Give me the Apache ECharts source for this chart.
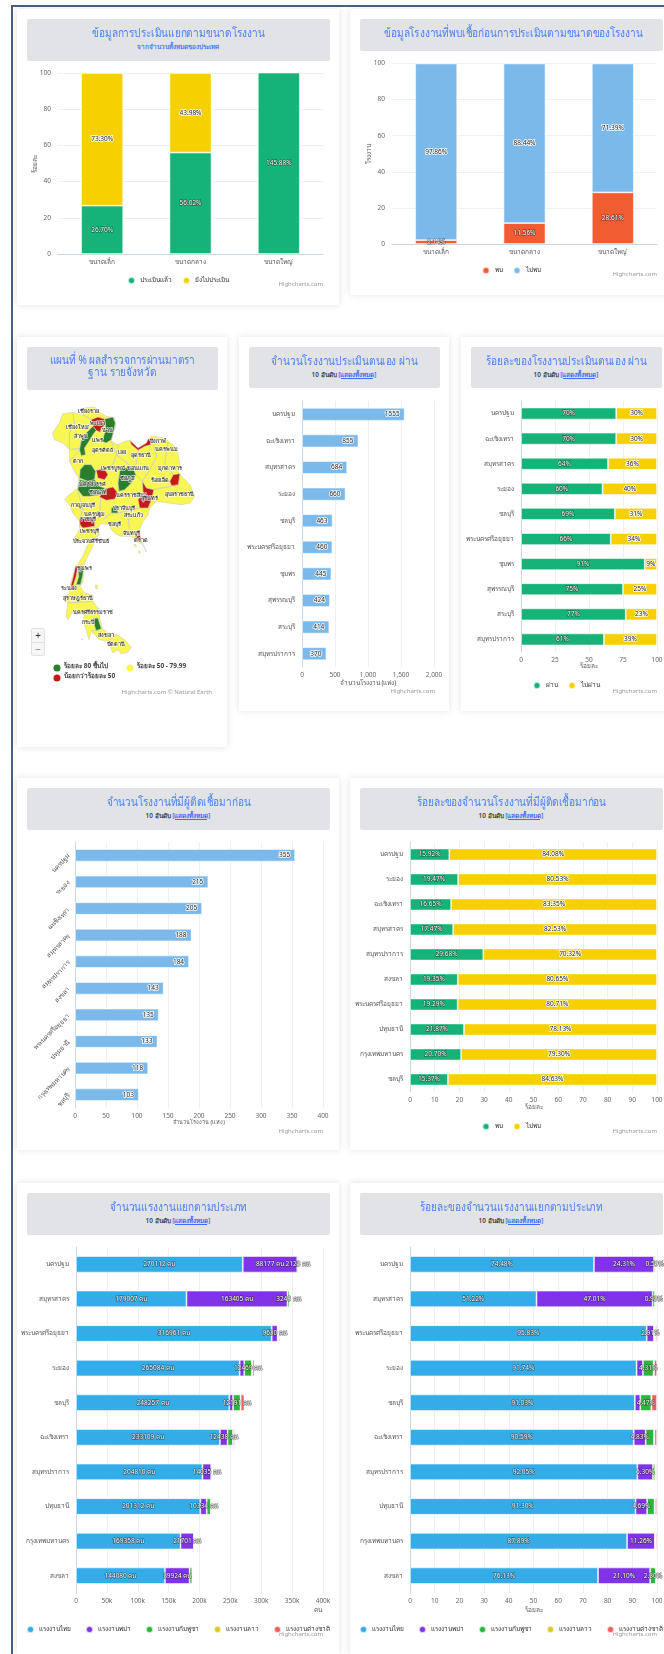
<!DOCTYPE html>
<html><head><meta charset="utf-8">
<script src="https://cdn.jsdelivr.net/npm/echarts@6/dist/echarts.min.js"></script>
<style>
html,body{margin:0;padding:0;width:664px;height:1654px;overflow:hidden;background:#fff;font-family:"Noto Sans",Roboto,sans-serif}
#frameTop{position:absolute;left:11px;top:5px;width:653px;height:2px;background:#4a5f7c}
#frameLeft{position:absolute;left:11px;top:5px;width:2px;height:1649px;background:#4a5f7c}
.card{position:absolute;background:#fff;box-shadow:0 0 7px rgba(0,0,0,.12)}
.chart{position:absolute;left:0;top:0;width:100%;height:100%}
.head{position:absolute;left:9.5px;top:9.5px;background:#e1e3e6;border-radius:2px;text-align:center;box-sizing:border-box;z-index:2}
.head h3{margin:0;font-weight:400;color:#4d80f5;font-size:12px;line-height:12px;padding-top:8px;white-space:nowrap;transform:scaleX(.84)}
.head h3.two{padding-top:7px}
.head p{margin:3px 0 0;color:#444;font-size:6.4px;line-height:10px;font-weight:600}
.head p.blue{color:#4d80f5}
.head a{color:#3f6ff0;text-decoration:underline}
.zoom{position:absolute;left:14px;top:291px;width:14px;height:28px;background:#f6f6f6;border:1px solid #e2e2e2;border-radius:2px;box-sizing:border-box;z-index:3;text-align:center;color:#333;font-size:10px;line-height:13px}
.zoom div+div{border-top:1px solid #e2e2e2;color:#777}
</style></head><body>
<div id="frameTop"></div><div id="frameLeft"></div>
<div id="page"></div>
<script>
// ---------- values ----------
const sizeCats = ['ขนาดเล็ก','ขนาดกลาง','ขนาดใหญ่'];
const assessedDone = [26.70,56.02,145.88];
const assessedNot = [73.30,43.98,0];
const foundYes = [2.14,11.56,28.61];
const foundNo = [97.86,88.44,71.39];

const selfCats = ['นครปฐม','ฉะเชิงเทรา','สมุทรสาคร','ระยอง','ชลบุรี','พระนครศรีอยุธยา','ชุมพร','สุพรรณบุรี','สระบุรี','สมุทรปราการ'];
const selfCount = [1555,855,684,660,463,460,445,424,414,370];
const selfPass = [70,70,64,60,69,66,91,75,77,61];
const selfFail = [30,30,36,40,31,34,9,25,23,39];

const infCats = ['นครปฐม','ระยอง','ฉะเชิงเทรา','สมุทรสาคร','สมุทรปราการ','สงขลา','พระนครศรีอยุธยา','ปทุมธานี','กรุงเทพมหานคร','ชลบุรี'];
const infCount = [355,215,205,188,184,143,135,133,118,103];
const infYes = [15.92,19.47,16.65,17.47,29.68,19.35,19.29,21.87,20.70,15.37];
const infNo = [84.08,80.53,83.35,82.53,70.32,80.65,80.71,78.13,79.30,84.63];

const workCats = ['นครปฐม','สมุทรสาคร','พระนครศรีอยุธยา','ระยอง','ชลบุรี','ฉะเชิงเทรา','สมุทรปราการ','ปทุมธานี','กรุงเทพมหานคร','สงขลา'];
const workThai = [270112,179007,316961,265084,248257,233109,204810,201312,169358,144080];
const workBurma = [88177,163405,9630,7370,6000,12438,14035,10334,21701,39924];
const workCambodia = [2123,3248,1160,12469,12191,8700,2000,6700,190,4360];
const workLao = [1270,1500,990,720,270,520,600,400,385,115];
const workOther = [980,1430,2020,3320,6000,2570,1070,1750,1060,775];
const pctThai = [74.48,51.22,95.83,91.74,91.03,90.59,92.05,91.30,87.89,76.13];
const pctBurma = [24.31,47.01,2.91,2.55,2.20,4.83,6.30,4.69,11.26,21.10];
const pctCambodia = [0.59,0.93,0.35,4.31,4.47,3.38,0.90,3.04,0.10,2.30];
const pctLao = [0.35,0.43,0.30,0.25,0.10,0.20,0.27,0.18,0.20,0.06];
const pctOther = [0.27,0.41,0.61,1.15,2.20,1.00,0.48,0.79,0.55,0.41];
const burmaLabelled = [1,1,1,0,0,1,1,1,1,1];
const cambodiaLabelled = [1,1,0,1,1,0,0,0,0,0];
const cambodiaPctLabelled = [1,1,0,1,1,0,0,0,0,1];

// province results (pass rate %), shapes below are rough traces of the base map
const mapProvinces = ['พะเยา','น่าน','ลำปาง','กำแพงเพชร','นครสวรรค์','พิจิตร','สิงห์บุรี','ชัยภูมิ','บุรีรัมย์','ยโสธร','หนองคาย','ปราจีนบุรี','ราชบุรี','ชุมพร','ระนอง','ตรัง','ตราด'];
const mapPassRate = [42,85,84,86,88,45,44,87,41,43,40,83,38,82,46,81,47];

const thailandOutline = [[40,42],[70,38],[100,45],[105,25],[135,22],[150,38],[170,50],[195,55],[198,80],[190,100],[185,125],[205,135],[225,125],[240,122],[265,145],[290,130],[305,108],[340,115],[355,125],[375,140],[385,165],[390,195],[385,220],[400,235],[420,255],[435,290],[420,310],[395,315],[355,310],[320,305],[300,325],[295,345],[280,365],[270,390],[270,415],[278,430],[290,457],[280,435],[262,425],[245,410],[215,410],[198,403],[185,390],[178,375],[155,372],[145,385],[150,405],[135,415],[130,440],[120,460],[105,490],[105,505],[100,545],[92,560],[105,580],[130,585],[130,605],[145,625],[150,655],[158,685],[175,700],[200,705],[225,720],[245,743],[235,757],[215,763],[205,750],[190,760],[175,725],[150,720],[125,695],[118,720],[110,690],[100,665],[105,645],[70,637],[55,660],[50,650],[55,610],[45,600],[60,580],[60,565],[68,535],[80,500],[100,470],[110,445],[118,430],[105,420],[70,420],[85,400],[90,385],[90,365],[70,340],[60,315],[45,300],[60,285],[85,265],[88,235],[75,215],[60,185],[60,150],[40,130],[15,120],[10,100],[30,70]];
const provinceShapes = [
 [[125,60],[145,52],[165,58],[168,75],[155,85],[152,98],[140,92],[130,80]],
 [[165,58],[190,52],[197,70],[192,95],[185,120],[170,130],[158,125],[165,100],[168,75]],
 [[130,80],[140,92],[130,105],[115,130],[105,145],[108,165],[95,168],[90,150],[95,125],[105,105],[120,90]],
 [[105,195],[125,195],[138,215],[135,240],[115,245],[90,235],[92,210]],
 [[90,240],[115,245],[135,240],[150,260],[165,265],[155,285],[120,290],[100,290],[85,270]],
 [[140,212],[165,208],[175,225],[165,240],[145,235]],
 [[165,268],[190,262],[205,280],[195,298],[170,302],[150,292]],
 [[212,205],[250,205],[258,225],[245,250],[225,270],[208,275],[205,250]],
 [[278,245],[290,265],[312,270],[305,300],[295,325],[270,325],[265,300],[280,280]],
 [[370,225],[390,222],[385,255],[365,258],[360,245]],
 [[240,122],[265,145],[290,130],[295,118],[305,118],[303,135],[285,140],[265,152],[245,135]],
 [[185,325],[200,318],[205,340],[185,340]],
 [[90,358],[135,350],[135,380],[100,385],[92,375]],
 [[85,500],[102,503],[100,525],[93,555],[80,555],[88,530]],
 [[78,500],[85,500],[80,530],[72,555],[78,565],[65,570],[65,555],[72,530]],
 [[128,657],[145,655],[155,687],[140,693]],
 [[255,410],[270,405],[275,420],[262,425]]
];
const islandShapes = [[[138,555],[145,558],[143,568],[137,565]],[[255,433],[261,437],[258,443],[254,439]],[[267,452],[272,456],[270,462],[266,458]],[[96,718],[100,718],[99,722]]];
const provinceBorders = [[[100,45],[125,60]],[[70,38],[75,75],[60,100],[60,150]],[[105,145],[60,150]],[[90,150],[60,185]],[[185,125],[200,165],[190,195],[140,212]],[[265,152],[260,190],[250,205]],[[205,135],[200,165],[250,205]],[[305,118],[320,170],[300,210],[278,245]],[[355,125],[345,190],[370,225]],[[258,225],[278,245]],[[390,222],[385,255],[312,270]],[[88,235],[120,290]],[[85,270],[100,330],[90,358]],[[155,285],[150,340],[135,350]],[[205,340],[185,340],[160,360]],[[205,340],[270,325]],[[235,355],[240,390]],[[95,490],[105,505]],[[60,565],[100,545]],[[55,610],[130,605]],[[105,645],[150,625]],[[125,695],[158,685]],[[175,725],[200,705]]];
const provinceLabels = [['เชียงราย',118,35],['พะเยา',145,72],['น่าน',175,93],['เชียงใหม่',85,83],['ลำพูน',95,110],['แพร่',145,123],['อุตรดิตถ์',160,153],['เลย',218,158],['อุดรธานี',275,167],['บึงกาฬ',325,125],['นครพนม',350,150],['ตาก',85,185],['เพชรบูรณ์',190,207],['ขอนแก่น',265,205],['มุกดาหาร',360,205],['ชัยภูมิ',232,235],['ร้อยเอ็ด',330,243],['นครสวรรค์',130,255],['ชัยนาท',145,278],['นครราชสีมา',245,288],['สุรินทร์',300,297],['อุบลราชธานี',390,285],['กาญจนบุรี',100,317],['ปราจีนบุรี',222,327],['นครปฐม',135,345],['สระแก้ว',252,347],['ราชบุรี',115,360],['ชลบุรี',195,375],['เพชรบุรี',120,395],['จันทบุรี',245,400],['ตราด',275,421],['ประจวบคีรีขันธ์',125,425],['ชุมพร',105,505],['ระนอง',60,567],['สุราษฎร์ธานี',85,597],['นครศรีธรรมราช',130,638],['กระบี่',115,668],['สงขลา',168,707],['ปัตตานี',200,735]];

// ---------- look ----------
const GREEN='#16b378', YELLOW='#f6d000', ORANGE='#f15c33', SKY='#7cb9eb', BLUE='#33ace8', PURPLE='#8033e8', GREEN2='#2cb53c', LAO='#e0c81f', OTHER='#f06060';
const FONT='"Noto Sans",Roboto,sans-serif';
const LIGHTLBL={color:'#fff',textBorderColor:'rgba(30,30,30,.7)',textBorderWidth:1};
const DARKLBL={color:'#222',textBorderColor:'#fff',textBorderWidth:1.5};
const sub10='10 อันดับ <a>[แสดงทั้งหมด]</a>';

function addCard(c){
  const d=document.createElement('div');d.className='card';
  d.style.cssText=`left:${c.x}px;top:${c.y}px;width:${c.w}px;height:${c.h}px`;
  const cv=document.createElement('div');cv.className='chart';d.appendChild(cv);
  const h=document.createElement('div');h.className='head';
  h.style.width=(c.w-19)+'px';h.style.height=c.hh+'px';
  h.innerHTML=`<h3 class="${c.two?'two':''}">${c.title}</h3>`+(c.sub?`<p class="${c.subBlue?'blue':''}">${c.sub}</p>`:'');
  d.appendChild(h);
  document.getElementById('page').appendChild(d);
  return {el:cv,card:d};
}
function credit(txt,right,top){return {type:'text',right:right,top:top,style:{text:txt,fontSize:6,fill:'#999',fontFamily:FONT}};}

function barChart(c){
  const {el}=addCard(c);
  const chart=echarts.init(el,null,{renderer:'canvas'});
  const g={left:c.plot[0]-c.x,right:c.w-(c.plot[1]-c.x),top:c.plot[2]-c.y,bottom:c.h-(c.plot[3]-c.y),containLabel:false,outerBoundsMode:'none'};
  const cat={type:'category',data:c.cats,inverse:c.horizontal,
    axisTick:{show:false},axisLine:{lineStyle:{color:'#ccd6eb',width:1}},
    axisLabel:{fontSize:6.5,color:'#555',fontFamily:FONT,interval:0,rotate:c.catRotate||0,margin:c.catMargin||(c.horizontal?7:5)}};
  const val={type:'value',min:0,max:c.max,interval:c.interval,
    splitLine:{show:true,lineStyle:{color:'#f0f0f3',width:1}},axisLine:{show:false},axisTick:{show:false},
    axisLabel:{fontSize:6.5,color:'#666',fontFamily:FONT,margin:c.horizontal?5:7,formatter:c.valFmt||'{value}'}};
  if(c.valName){Object.assign(val,{name:c.valName,nameLocation:c.nameEnd?'end':'middle',nameGap:c.nameGap,nameMoveOverlap:!!c.nameEnd,
    nameTextStyle:Object.assign({fontSize:c.nameSize||6.5,color:'#555',fontFamily:FONT},c.nameEnd?{align:'right',verticalAlign:'top',padding:[14,0,0,0]}:{})});}
  const series=c.series.map(s=>({
    name:s.name,type:'bar',stack:c.noStack?null:'t',data:s.data,barWidth:c.barWidth,
    itemStyle:{color:s.color,borderColor:'rgba(255,255,255,.7)',borderWidth:.8},
    label:Object.assign({show:true,position:s.pos||'inside',fontSize:s.size||6.5,fontFamily:FONT,offset:s.offset||[0,0],
      formatter:s.fmt},s.dark?DARKLBL:LIGHTLBL),
    labelLayout:{hideOverlap:false},silent:true,animation:false
  }));
  const opt={animation:false,textStyle:{fontFamily:FONT},grid:g,
    xAxis:c.horizontal?val:cat,yAxis:c.horizontal?cat:val,series:series,
    graphic:[credit('Highcharts.com',c.w-(c.creditRight-c.x),c.creditY-c.y)]};
  if(c.legendY){opt.legend={top:c.legendY-c.y-5,left:'center',icon:'circle',itemWidth:7,itemHeight:7,itemGap:c.legendGap||10,
    textStyle:{fontSize:c.legendSize||6.5,color:'#333',fontFamily:FONT},data:c.series.map(s=>s.name)};}
  chart.setOption(opt);
}
const pct2=p=>p.value>0?p.value.toFixed(2)+'%':'';
const pct0=p=>p.value+'%';
const plain=p=>String(p.value);

// Row 1
barChart({x:17,y:9,w:322,h:296,hh:42,title:'ข้อมูลการประเมินแยกตามขนาดโรงงาน',sub:'จากจำนวนทั้งหมดของประเทศ',subBlue:true,
  plot:[58,323,73,254],cats:sizeCats,max:100,interval:20,barWidth:42,valName:'ร้อยละ',nameGap:19,legendY:276,creditRight:323,creditY:281,
  series:[{name:'ประเมินแล้ว',data:assessedDone,color:GREEN,fmt:pct2},{name:'ยังไม่ประเมิน',data:assessedNot,color:YELLOW,dark:true,fmt:pct2}]});
barChart({x:350,y:9,w:322,h:286,hh:32,title:'ข้อมูลโรงงานที่พบเชื้อก่อนการประเมินตามขนาดของโรงงาน',
  plot:[392,657,63.5,244],cats:sizeCats,max:100,interval:20,barWidth:42,valName:'โรงงาน',nameGap:19,legendY:266,creditRight:657,creditY:271,
  series:[{name:'พบ',data:foundYes,color:ORANGE,fmt:pct2},{name:'ไม่พบ',data:foundNo,color:SKY,dark:true,fmt:pct2}]});

// Row 2
(function(){
  const c={x:17,y:337,w:210,h:410,hh:43,two:true,title:'แผนที่ % ผลสำรวจการผ่านมาตรา<br>ฐาน รายจังหวัด'};
  const {el,card}=addCard(c);
  const z=document.createElement('div');z.className='zoom';z.innerHTML='<div>+</div><div>−</div>';card.appendChild(z);
  const ring=r=>r.map(p=>[p[0],-p[1]]);
  const lineRing=r=>{const a=r.map(p=>[p[0],-p[1]]);return a.concat(a.slice(0,-1).reverse());};
  const feats=[];
  const add=(name,coords)=>feats.push({type:'Feature',properties:{name},geometry:{type:'Polygon',coordinates:[coords]}});
  add('ประเทศไทย',ring(thailandOutline));
  islandShapes.forEach((s,i)=>add('เกาะ'+i,ring(s)));
  provinceBorders.forEach((s,i)=>add('เขต'+i,lineRing(s)));
  provinceShapes.forEach((s,i)=>add(mapProvinces[i],ring(s)));
  echarts.registerMap('thai',{type:'FeatureCollection',features:feats});
  const chart=echarts.init(el);
  chart.setOption({animation:false,textStyle:{fontFamily:FONT},
    geo:{map:'thai',aspectScale:1,left:52.7-c.x,top:407-c.y,width:142.3,height:247,roam:false,silent:true,
      itemStyle:{areaColor:'#f8f650',borderColor:'#cfcfc4',borderWidth:.6},emphasis:{disabled:true},select:{disabled:true},label:{show:false}},
    visualMap:{show:false,type:'piecewise',seriesIndex:0,pieces:[{min:80,color:'#2a7f2e'},{min:50,max:79.99,color:'#f8f650'},{max:49.99,color:'#c41a1c'}]},
    series:[
      {type:'map',geoIndex:0,data:mapProvinces.map((n,i)=>({name:n,value:mapPassRate[i]}))},
      {type:'scatter',coordinateSystem:'geo',symbolSize:0,silent:true,
        data:provinceLabels.map(l=>({name:l[0],value:[l[1],-l[2]]})),
        label:{show:true,position:'inside',formatter:'{b}',fontSize:5.5,fontWeight:'bold',color:'#222',textBorderColor:'#fff',textBorderWidth:1.2},
        labelLayout:{hideOverlap:false}}
    ],
    graphic:[
      {type:'circle',shape:{cx:40,cy:331,r:3.5},style:{fill:'#2a7f2e'}},
      {type:'text',left:47,top:326,style:{text:'ร้อยละ 80 ขึ้นไป',fontSize:6.5,fontWeight:'bold',fill:'#444',fontFamily:FONT}},
      {type:'circle',shape:{cx:113,cy:331,r:3.5},style:{fill:'#f8f650'}},
      {type:'text',left:120,top:326,style:{text:'ร้อยละ 50 - 79.99',fontSize:6.5,fontWeight:'bold',fill:'#444',fontFamily:FONT}},
      {type:'circle',shape:{cx:40,cy:341,r:3.5},style:{fill:'#c41a1c'}},
      {type:'text',left:47,top:336,style:{text:'น้อยกว่าร้อยละ 50',fontSize:6.5,fontWeight:'bold',fill:'#444',fontFamily:FONT}},
      credit('Highcharts.com © Natural Earth',15,352)
    ]});
})();
barChart({x:239,y:337,w:210,h:374,hh:41,title:'จำนวนโรงงานประเมินตนเอง ผ่าน',sub:sub10,horizontal:true,noStack:true,
  plot:[302,434,401,667],cats:selfCats,max:2000,interval:500,barWidth:13,valName:'จำนวนโรงงาน (แห่ง)',nameGap:13,creditRight:435,creditY:688,
  series:[{name:'ผ่าน',data:selfCount,color:SKY,dark:true,pos:'insideRight',fmt:plain}]});
barChart({x:461,y:337,w:210,h:374,hh:41,title:'ร้อยละของโรงงานประเมินตนเอง ผ่าน',sub:sub10,horizontal:true,
  plot:[521,657,401,652],cats:selfCats,max:100,interval:25,barWidth:12,valName:'ร้อยละ',nameGap:11,legendY:681,creditRight:657,creditY:688,
  series:[{name:'ผ่าน',data:selfPass,color:GREEN,fmt:pct0},{name:'ไม่ผ่าน',data:selfFail,color:YELLOW,dark:true,fmt:pct0}]});

// Row 3
barChart({x:17,y:778,w:322,h:372,hh:42,title:'จำนวนโรงงานที่มีผู้ติดเชื้อมาก่อน',sub:sub10,horizontal:true,noStack:true,
  plot:[75,323,842,1108],cats:infCats,max:400,interval:50,barWidth:12.5,catRotate:45,catMargin:6,valName:'จำนวนโรงงาน (แห่ง)',nameGap:11,nameSize:5.5,creditRight:323,creditY:1128,
  series:[{name:'พบ',data:infCount,color:SKY,dark:true,pos:'insideRight',offset:[0,6],fmt:plain}]});
barChart({x:350,y:778,w:322,h:372,hh:42,title:'ร้อยละของจำนวนโรงงานที่มีผู้ติดเชื้อมาก่อน',sub:sub10,horizontal:true,
  plot:[410,657,842,1092],cats:infCats,max:100,interval:10,barWidth:12,valName:'ร้อยละ',nameGap:12,legendY:1122,creditRight:657,creditY:1128,
  series:[{name:'พบ',data:infYes,color:GREEN,fmt:pct2},{name:'ไม่พบ',data:infNo,color:YELLOW,dark:true,fmt:pct2}]});

// Row 4
const cnt=p=>p.value+' คน';
const only=(flags,f)=>p=>flags[p.dataIndex]?f(p):'';
barChart({x:17,y:1183,w:322,h:471,hh:42,title:'จำนวนแรงงานแยกตามประเภท',sub:sub10,horizontal:true,
  plot:[76,323,1247,1593],cats:workCats,max:400000,interval:50000,barWidth:16.5,valFmt:v=>v?(v/1000)+'k':'0',valName:'คน',nameEnd:true,nameGap:-1,
  legendY:1625,legendGap:14,creditRight:323,creditY:1631,
  series:[{name:'แรงงานไทย',data:workThai,color:BLUE,fmt:cnt},
    {name:'แรงงานพม่า',data:workBurma,color:PURPLE,fmt:only(burmaLabelled,cnt)},
    {name:'แรงงานกัมพูชา',data:workCambodia,color:GREEN2,fmt:only(cambodiaLabelled,cnt)},
    {name:'แรงงานลาว',data:workLao,color:LAO,fmt:()=>''},
    {name:'แรงงานต่างชาติ',data:workOther,color:OTHER,fmt:()=>''}]});
barChart({x:350,y:1183,w:322,h:471,hh:42,title:'ร้อยละของจำนวนแรงงานแยกตามประเภท',sub:sub10,horizontal:true,
  plot:[410,657,1247,1593],cats:workCats,max:100,interval:10,barWidth:16.5,valName:'ร้อยละ',nameGap:14,
  legendY:1625,legendGap:14,creditRight:657,creditY:1631,
  series:[{name:'แรงงานไทย',data:pctThai,color:BLUE,fmt:pct2},
    {name:'แรงงานพม่า',data:pctBurma,color:PURPLE,fmt:only(burmaLabelled,pct2)},
    {name:'แรงงานกัมพูชา',data:pctCambodia,color:GREEN2,fmt:only(cambodiaPctLabelled,pct2)},
    {name:'แรงงานลาว',data:pctLao,color:LAO,fmt:()=>''},
    {name:'แรงงานต่างชาติ',data:pctOther,color:OTHER,fmt:()=>''}]});
</script>
</body></html>
